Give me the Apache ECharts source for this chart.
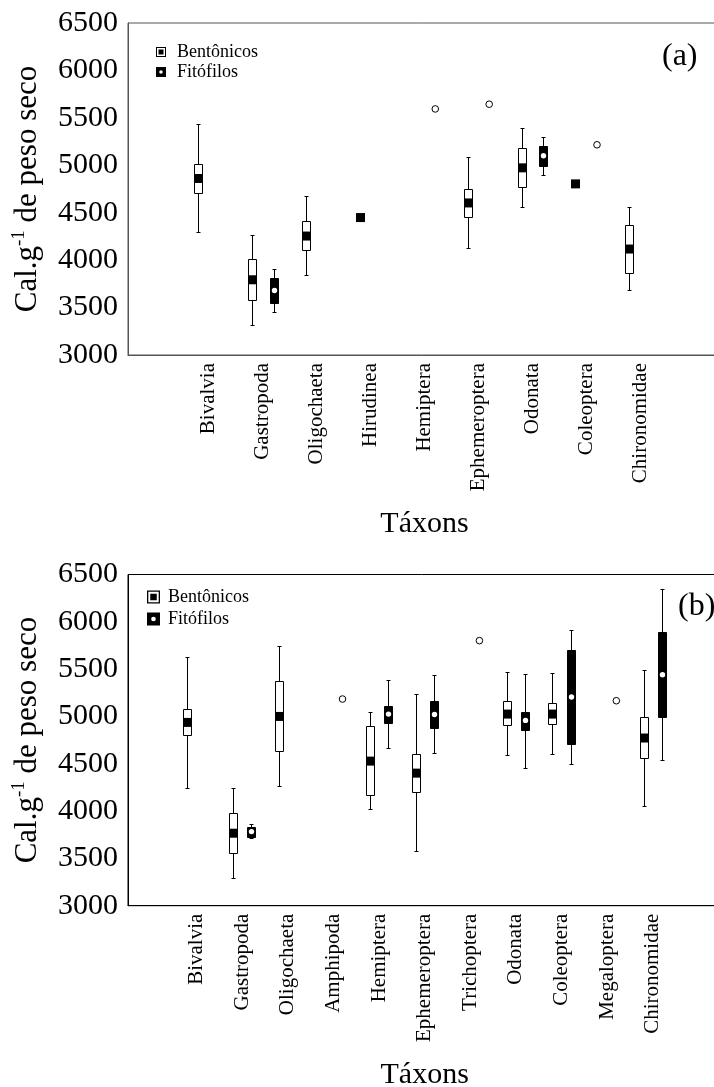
<!DOCTYPE html>
<html>
<head>
<meta charset="utf-8">
<style>html,body{margin:0;padding:0;background:#fff}#c{width:714px;height:1087px}</style>
<script src="https://cdn.jsdelivr.net/npm/echarts@6/dist/echarts.min.js"></script>
</head>
<body>
<div id="c"></div>
<script>
// ---------- DATA ----------
// each stat = [whisker min, Q1, median, Q3, whisker max]
const taxaA = ['Bivalvia','Gastropoda','Oligochaeta','Hirudinea','Hemiptera','Ephemeroptera','Odonata','Coleoptera','Chironomidae'];
const bentA = [[4296,4709,4861,5015,5438],[3320,3582,3793,4011,4265],[3839,4103,4254,4413,4677],[4449,4449,4449,4449,4449],null,[4127,4455,4603,4755,5089],[4565,4772,4973,5185,5390],[4804,4804,4804,4804,4804],[3687,3867,4117,4375,4561]];
const fitoA = [null,[3450,3546,3680,3810,3905],null,null,null,null,[4899,4994,5100,5203,5301],null,null];
const fitoOutA = [null,null,null,null,5594,5644,null,5216,null];

const taxaB = ['Bivalvia','Gastropoda','Oligochaeta','Amphipoda','Hemiptera','Ephemeroptera','Trichoptera','Odonata','Coleoptera','Megaloptera','Chironomidae'];
const bentB = [[4246,4807,4937,5078,5632],[3296,3561,3766,3984,4246],[4267,4640,5000,5378,5748],null,[4027,4175,4528,4894,5043],[3576,4200,4401,4605,5233],null,[4592,4905,5025,5159,5470],[4602,4920,5025,5142,5459],null,[4058,4560,4772,4994,5494]];
const fitoB = [null,[3713,3730,3783,3836,3861],null,null,[4666,4933,5025,5113,5381],[4609,4877,5021,5163,5434],null,[4460,4856,4958,5050,5449],[4496,4708,5205,5706,5918],null,[4539,4990,5441,5897,6348]];
const fitoOutB = [null,null,null,5184,null,null,5801,null,null,5166,null];

const yMin = 3000, yMax = 6500, yStep = 500;
const groupNames = ['Bentônicos','Fitófilos'];
const panelLabels = ['(a)','(b)'];
const xTitle = 'Táxons';

// ---------- helpers ----------
const FONT = 'Liberation Serif';
const cats = t => [''].concat(t, ['']);
const boxData = s => s.map((v,i)=> v ? [i+1].concat(v) : null).filter(Boolean);
const outData = s => s.map((v,i)=> v==null ? null : [i+1, v]).filter(Boolean);

function boxRenderer(side, filled) {
  return function (params, api) {
    const ci = api.value(0);
    const band = api.size([1, 0])[0];
    const base = api.coord([ci, api.value(3)]);
    const cx = Math.round(base[0] + side * 0.2 * band) + 0.5;
    const w = Math.round(band * 0.17);
    const hw = Math.floor(w / 2);
    const py = k => api.coord([ci, api.value(k)])[1];
    const y0 = Math.round(py(1)) + 0.5, q1 = Math.round(py(2)) + 0.5, med = py(3),
          q3 = Math.round(py(4)) + 0.5, y1 = Math.round(py(5)) + 0.5;
    const ls = {stroke:'#000', lineWidth:1};
    const ch = [];
    if (api.value(1) !== api.value(5)) {
      ch.push({type:'line', shape:{x1:cx,y1:y1,x2:cx,y2:y0}, style:ls});
      ch.push({type:'line', shape:{x1:cx-2,y1:y1,x2:cx+2,y2:y1}, style:ls});
      ch.push({type:'line', shape:{x1:cx-2,y1:y0,x2:cx+2,y2:y0}, style:ls});
      ch.push({type:'rect', shape:{x:cx-hw, y:q3, width:2*hw, height:q1-q3},
               style:{fill: filled ? '#000' : '#fff', stroke:'#000', lineWidth:1}});
    }
    if (filled) ch.push({type:'circle', shape:{cx:cx, cy:med, r:2.7}, style:{fill:'#fff'}});
    else ch.push({type:'rect', shape:{x:cx-hw-0.5, y:med-hw-0.5, width:2*hw+1, height:2*hw+1}, style:{fill:'#000'}});
    return {type:'group', children:ch};
  };
}
function outRenderer(side) {
  return function (params, api) {
    const ci = api.value(0);
    const band = api.size([1, 0])[0];
    const p = api.coord([ci, api.value(1)]);
    return {type:'circle', shape:{cx:p[0] + side*0.2*band, cy:p[1], r:3.3},
            style:{fill:'#fff', stroke:'#000', lineWidth:1}};
  };
}

const ICON_B = 'path://M0,0L10,0L10,10L0,10Z M1,1L1,9L9,9L9,1Z M2.5,2.5L7.5,2.5L7.5,7.5L2.5,7.5Z';
const ICON_F = 'path://M0,0L10,0L10,10L0,10Z M5,3.2A1.8,1.8 0 0,0 5,6.8A1.8,1.8 0 0,0 5,3.2Z';

const grids = [
  {left:128, right:-7, top:23, height:332, show:true, borderColor:'#555', borderWidth:1, outerBoundsMode:'none', containLabel:false},
  {left:128, right:-7.3, top:574.5, height:331.2, show:true, borderColor:'#000', borderWidth:1, outerBoundsMode:'none', containLabel:false}
];
const lineCols = ['#555', '#000'];

function xAxis(i, taxa) {
  return {
    type:'category', gridIndex:i, data:cats(taxa), boundaryGap:true,
    axisLine:{lineStyle:{color:lineCols[i], width:1}},
    axisTick:{alignWithLabel:true, inside:true, length:4, interval:0, lineStyle:{color:lineCols[i]}},
    axisLabel:{interval:0, rotate:90, fontFamily:FONT, fontSize:21, color:'#000', margin:8},
    name:xTitle, nameLocation:'middle', nameGap:154,
    nameTextStyle:{fontFamily:FONT, fontSize:30, color:'#000'}
  };
}
function yAxis(i) {
  return {
    type:'value', gridIndex:i, min:yMin, max:yMax, interval:yStep,
    axisLine:{show:true, lineStyle:{color:lineCols[i], width:1}},
    axisTick:{show:false}, splitLine:{show:false},
    axisLabel:{fontFamily:FONT, fontSize:30, color:'#000', margin:10, formatter: v => String(v)},
    name:'Cal.g{sup|-1} de peso seco', nameLocation:'middle', nameRotate:90, nameGap:80,
    nameTextStyle:{fontFamily:FONT, fontSize:31, color:'#000', lineHeight:38,
      rich:{sup:{fontFamily:FONT, fontSize:19, lineHeight:19, color:'#000', verticalAlign:'top'}}}
  };
}
function seriesFor(i, bent, fito, outs) {
  return [
    {name:groupNames[0], type:'custom', xAxisIndex:i, yAxisIndex:i, data:boxData(bent),
     renderItem:boxRenderer(-1,false), encode:{x:0, y:[1,2,3,4,5]}, itemStyle:{color:'#000'}, silent:true},
    {name:groupNames[1], type:'custom', xAxisIndex:i, yAxisIndex:i, data:boxData(fito),
     renderItem:boxRenderer(1,true), encode:{x:0, y:[1,2,3,4,5]}, itemStyle:{color:'#000'}, silent:true},
    {name:groupNames[1], type:'custom', xAxisIndex:i, yAxisIndex:i, data:outData(outs),
     renderItem:outRenderer(1), encode:{x:0, y:1}, itemStyle:{color:'#000'}, silent:true}
  ];
}
function legend(left, top, size, gap, pad) {
  return {
    orient:'vertical', left:left, top:top, padding:0, itemWidth:size, itemHeight:size, itemGap:gap,
    selectedMode:false,
    data:[{name:groupNames[0], icon:ICON_B, itemStyle:{color:'#000', borderWidth:0}},
          {name:groupNames[1], icon:ICON_F, itemStyle:{color:'#000', borderWidth:0}}],
    textStyle:{fontFamily:FONT, fontSize:18, color:'#000', padding:[0,0,0,pad]}
  };
}

const chart = echarts.init(document.getElementById('c'), null, {renderer:'canvas'});
chart.setOption({
  animation:false,
  backgroundColor:'#fff',
  title:[
    {text:panelLabels[0], left:662, top:41, padding:0, textStyle:{fontFamily:FONT, fontSize:32, fontWeight:'normal', color:'#000'}},
    {text:panelLabels[1], left:678, top:591, padding:0, textStyle:{fontFamily:FONT, fontSize:32, fontWeight:'normal', color:'#000'}}
  ],
  legend:[legend(156, 43, 10, 2, 6), legend(147, 588, 13, 4, 3)],
  grid:grids,
  xAxis:[xAxis(0, taxaA), xAxis(1, taxaB)],
  yAxis:[yAxis(0), yAxis(1)],
  series:seriesFor(0, bentA, fitoA, fitoOutA).concat(seriesFor(1, bentB, fitoB, fitoOutB))
});
</script>
</body>
</html>
